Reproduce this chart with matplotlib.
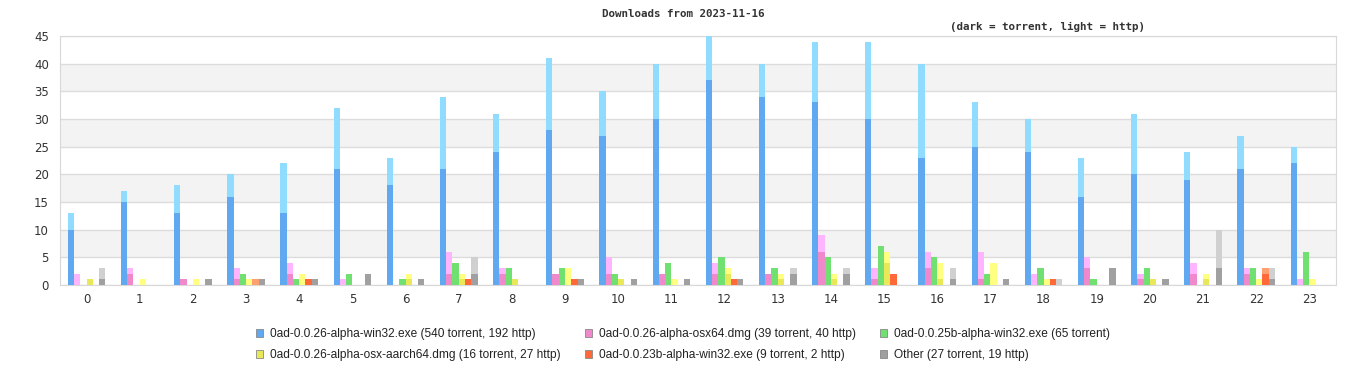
import numpy as np
import matplotlib.pyplot as plt
from matplotlib.patches import Patch

hours = list(range(24))

names = [
    '0ad-0.0.26-alpha-win32.exe (540 torrent, 192 http)',
    '0ad-0.0.26-alpha-osx64.dmg (39 torrent, 40 http)',
    '0ad-0.0.25b-alpha-win32.exe (65 torrent)',
    '0ad-0.0.26-alpha-osx-aarch64.dmg (16 torrent, 27 http)',
    '0ad-0.0.23b-alpha-win32.exe (9 torrent, 2 http)',
    'Other (27 torrent, 19 http)',
]

win32_t = [10, 15, 13, 16, 13, 21, 18, 21, 24, 28, 27, 30, 37, 34, 33, 30, 23, 25, 24, 16, 20, 19, 21, 22]
win32_h = [3, 2, 5, 4, 9, 11, 5, 13, 7, 13, 8, 10, 8, 6, 11, 14, 17, 8, 6, 7, 11, 5, 6, 3]
osx64_t = [0, 2, 1, 1, 2, 0, 0, 2, 2, 2, 2, 2, 2, 2, 6, 1, 3, 1, 0, 3, 1, 2, 2, 0]
osx64_h = [2, 1, 0, 2, 2, 1, 0, 4, 1, 0, 3, 0, 2, 0, 3, 2, 3, 5, 2, 2, 1, 2, 1, 1]
w25b_t = [0, 0, 0, 2, 1, 2, 1, 4, 3, 3, 2, 4, 5, 3, 5, 7, 5, 2, 3, 1, 3, 0, 3, 6]
w25b_h = [0] * 24
aarch_t = [1, 0, 0, 0, 0, 0, 1, 1, 1, 0, 1, 0, 2, 1, 1, 4, 1, 0, 0, 0, 1, 1, 0, 0]
aarch_h = [0, 1, 1, 1, 2, 0, 1, 1, 0, 3, 0, 1, 1, 1, 1, 2, 3, 4, 1, 0, 0, 1, 1, 1]
w23b_t = [0, 0, 0, 0, 1, 0, 0, 1, 0, 1, 0, 0, 1, 0, 0, 2, 0, 0, 1, 0, 0, 0, 2, 0]
w23b_h = [0, 0, 0, 1, 0, 0, 0, 0, 0, 0, 0, 0, 0, 0, 0, 0, 0, 0, 0, 0, 0, 0, 1, 0]
other_t = [1, 0, 1, 1, 1, 2, 1, 2, 0, 1, 1, 1, 1, 2, 2, 0, 1, 1, 0, 3, 1, 3, 1, 0]
other_h = [2, 0, 0, 0, 0, 0, 0, 3, 0, 0, 0, 0, 0, 1, 1, 0, 2, 0, 1, 0, 0, 7, 2, 0]

torrent = [win32_t, osx64_t, w25b_t, aarch_t, w23b_t, other_t]
http = [win32_h, osx64_h, w25b_h, aarch_h, w23b_h, other_h]
dark = ['#60a8f0', '#f088cc', '#70e070', '#e8e858', '#ff6838', '#a0a0a0']
light = ['#90dcff', '#ffb4ff', '#70e070', '#ffff80', '#ffa070', '#d0d0d0']

fig = plt.figure(figsize=(13.66, 3.8), dpi=100)
ax = fig.add_axes([0.0439, 0.25, 0.9341, 0.655])

x = np.arange(len(hours))
w = 0.118
for i in range(6):
    off = (i - 2.5) * w
    ax.bar(x + off, torrent[i], w, color=dark[i], linewidth=0, zorder=3)
    ax.bar(x + off, http[i], w, bottom=torrent[i], color=light[i], linewidth=0, zorder=3)

ax.set_xlim(-0.5, 23.5)
ax.set_ylim(0, 45)
for y0 in range(5, 45, 10):
    ax.axhspan(y0, y0 + 5, color='#f3f3f3', zorder=0, linewidth=0)
ax.set_yticks(range(0, 46, 5))
ax.yaxis.grid(True, color='#dcdcdc', linewidth=1, zorder=1)
ax.set_xticks(x)
ax.set_xticklabels([str(h) for h in hours])
ax.tick_params(length=0, labelsize=8.5, colors='#333333', pad=6)
ax.tick_params(axis='y', pad=8)
for s in ax.spines.values():
    s.set_color('#d8d8d8')

fig.text(0.5, 0.963, 'Downloads from 2023-11-16', ha='center', va='center',
         family='DejaVu Sans Mono', weight='bold', fontsize=7.8, color='#333333')
fig.text(0.767, 0.928, '(dark = torrent, light = http)', ha='center', va='center',
         family='DejaVu Sans Mono', weight='bold', fontsize=7.8, color='#333333')

order = [0, 3, 1, 4, 2, 5]
handles = [Patch(facecolor=dark[i], edgecolor='#888888', linewidth=0.6, label=names[i]) for i in order]
fig.legend(handles=handles, loc='center', bbox_to_anchor=(0.5, 0.093), ncol=3, frameon=False,
           prop={'family': 'Liberation Sans', 'size': 8.6}, handlelength=0.55, handleheight=0.55,
           handletextpad=0.6, columnspacing=2.05, labelspacing=0.75, labelcolor='#222222')

fig.savefig('out.png', dpi=100)
